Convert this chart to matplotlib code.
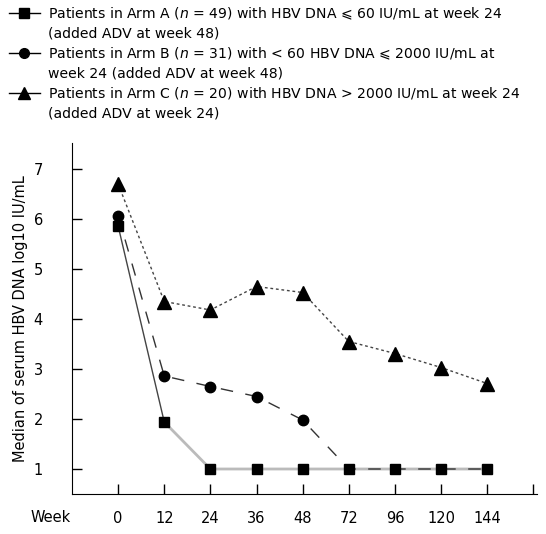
import numpy as np
import matplotlib
matplotlib.use("Agg")
import matplotlib.pyplot as plt
from matplotlib.lines import Line2D

plt.rcParams["font.family"] = ["DejaVu Sans"]
plt.rcParams["mathtext.fontset"] = "dejavusans"

weeks = ["0", "12", "24", "36", "48", "72", "96", "120", "144"]

arm_a = [5.86, 1.94, 1.0, 1.0, 1.0, 1.0, 1.0, 1.0, 1.0]
arm_b = [6.07, 2.86, 2.65, 2.45, 1.98, 1.0, 1.0, 1.0, 1.0]
arm_c = [6.70, 4.35, 4.18, 4.65, 4.53, 3.55, 3.31, 3.03, 2.71]

labels = [
    "Patients in Arm A ($n$ = 49) with HBV DNA \u2a7d 60 IU/mL at week 24",
    "(added ADV at week 48)",
    "Patients in Arm B ($n$ = 31) with < 60 HBV DNA \u2a7d 2000 IU/mL at",
    "week 24 (added ADV at week 48)",
    "Patients in Arm C ($n$ = 20) with HBV DNA > 2000 IU/mL at week 24",
    "(added ADV at week 24)",
]

W, H = 546, 534
fig = plt.figure(figsize=(W / 100, H / 100), dpi=100)
ax = fig.add_axes([72 / W, 40 / H, (537 - 72) / W, (494 - 143) / H])

x = np.arange(len(weeks))

# Arm B dashed (markers hidden under squares after week 48)
ax.plot(x, arm_b, color="#333333", lw=1.0, ls=(0, (9, 9)), zorder=2)
ax.plot(x[:5], arm_b[:5], ls="none", marker="o", ms=7.5, color="black", zorder=4)

# Arm C dotted
ax.plot(x, arm_c, color="#444444", lw=1.0, ls=(0, (2, 2)), marker="^", ms=9.5,
        mfc="black", mec="black", zorder=3)

# Arm A solid grey
ax.plot(x[:2], arm_a[:2], color="#444444", lw=1.0, zorder=1)
ax.plot(x[1:], arm_a[1:], color="#bbbbbb", lw=2.0, zorder=1)
ax.plot(x, arm_a, ls="none", marker="s", ms=7.5, color="black", zorder=5)

ax.set_xlim(-1, 9.08)
ax.set_ylim(0.5, 7.52)
ax.set_xticks(list(x) + [9])
ax.set_xticklabels(weeks + [""])
ax.set_yticks([1, 2, 3, 4, 5, 6, 7])
ax.tick_params(direction="in", length=7, width=1, labelsize=10.5)
ax.tick_params(axis="x", pad=12)
ax.tick_params(axis="y", pad=21)
for s in ["top", "right"]:
    ax.spines[s].set_visible(False)
ax.set_ylabel("Median of serum HBV DNA log10 IU/mL", fontsize=10.5, labelpad=4)
ax.text(-0.045, -0.066, "Week", transform=ax.transAxes, ha="center", va="center",
        fontsize=10.5)

blank = Line2D([], [], color="none")
handles = [
    Line2D([], [], color="black", lw=1, marker="s", ms=7),
    blank,
    Line2D([], [], color="black", lw=1, marker="o", ms=7),
    blank,
    Line2D([], [], color="black", lw=1, marker="^", ms=8),
    blank,
]
fig.legend(handles, labels, loc="upper left", bbox_to_anchor=(0.0055, 1.0),
           frameon=False, fontsize=10.05, handlelength=2.25, handletextpad=0.55,
           labelspacing=0.34, borderaxespad=0.0, borderpad=0.4)

fig.savefig("out.png", dpi=100)
